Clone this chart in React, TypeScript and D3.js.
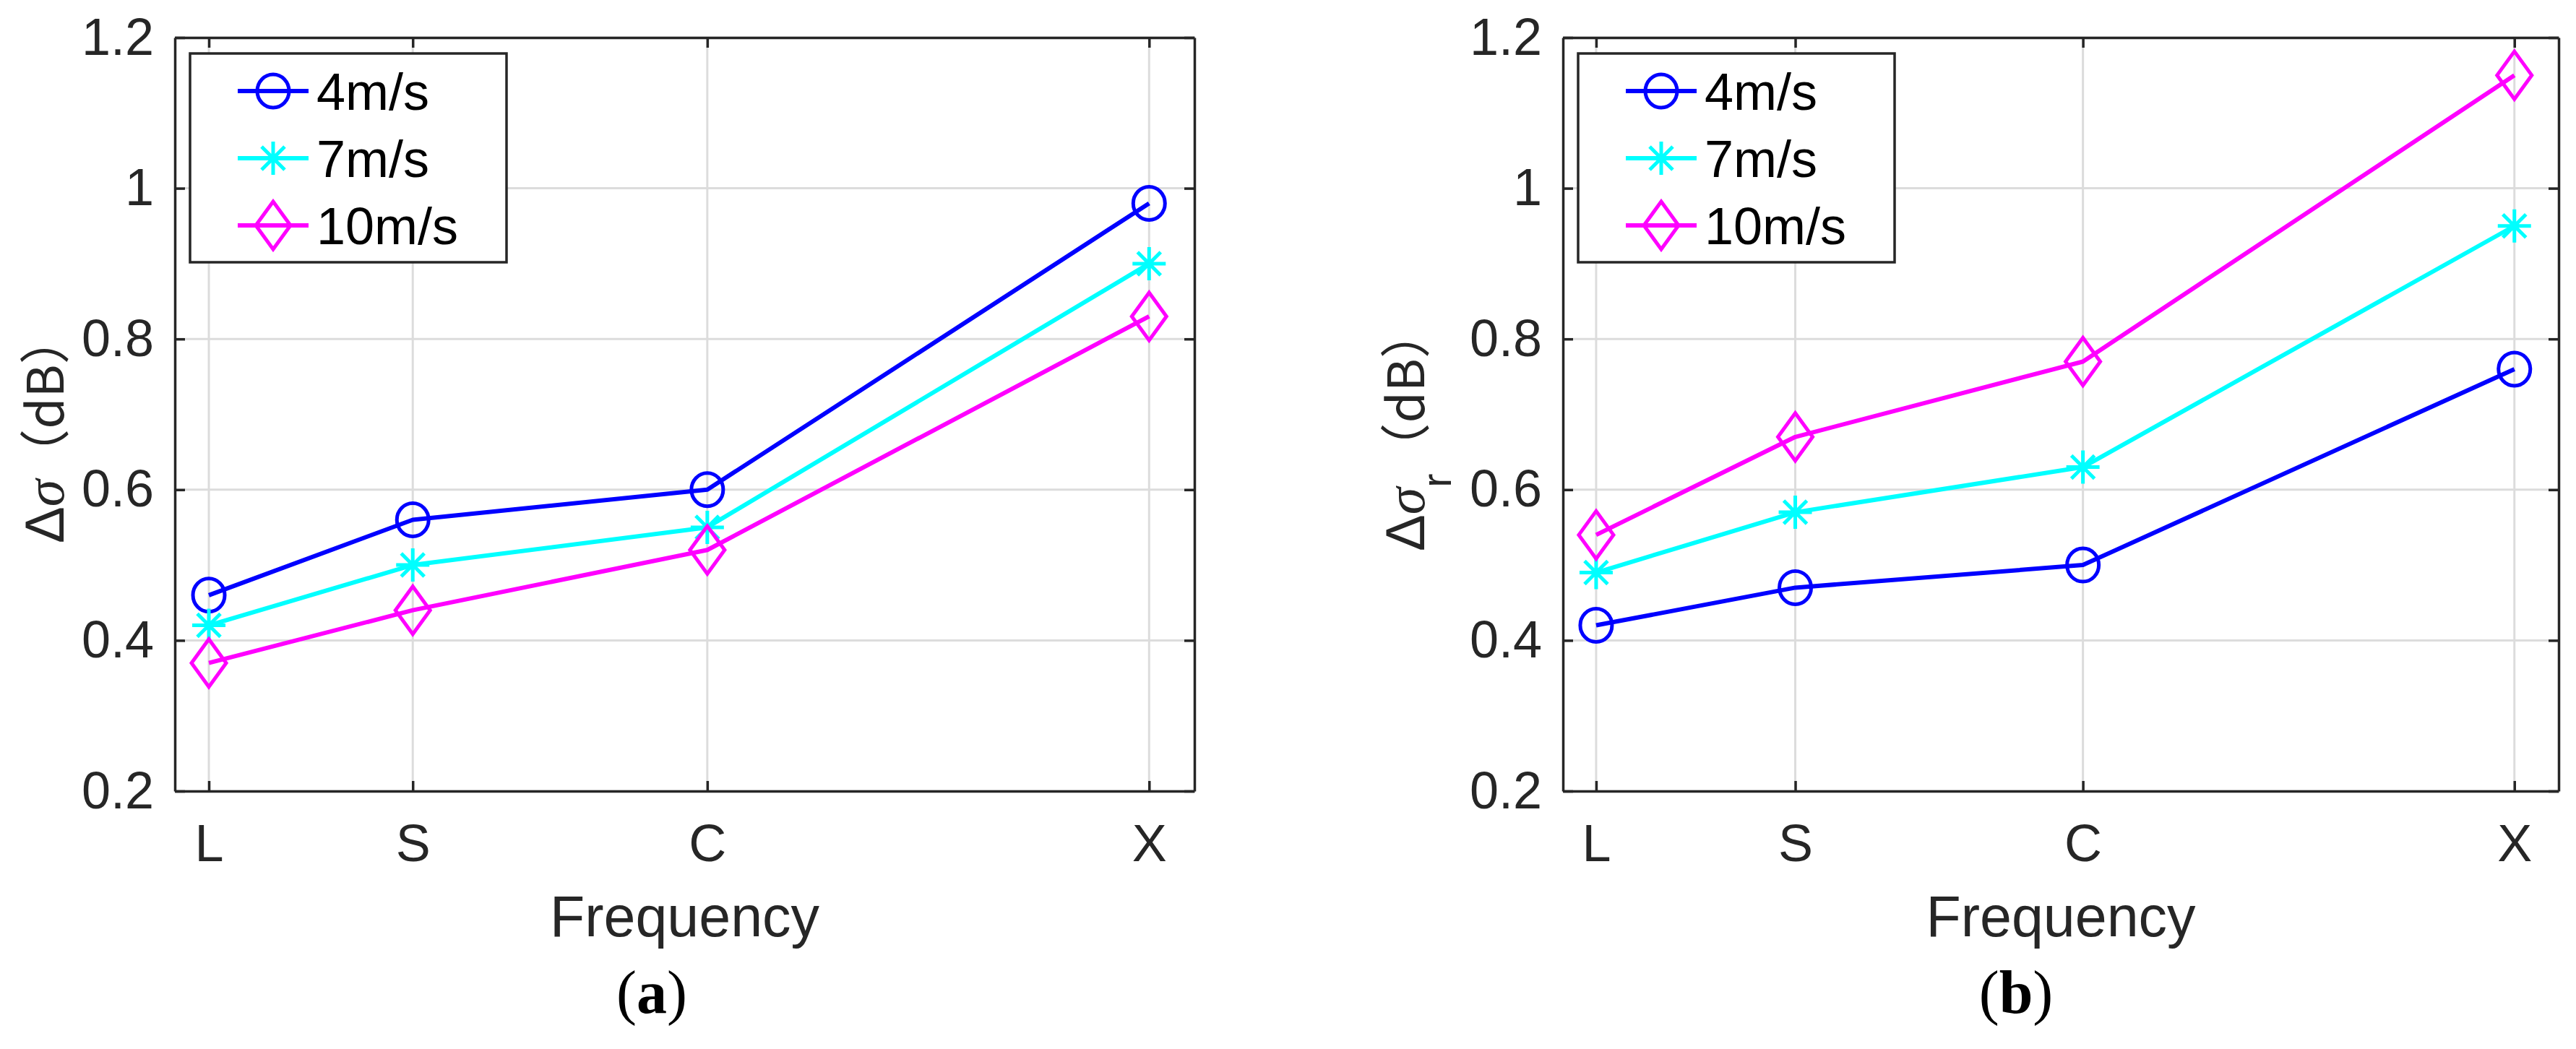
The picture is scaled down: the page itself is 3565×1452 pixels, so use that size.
import React, { useRef, useEffect } from 'react';
import * as d3 from 'd3';

const bands = ['L', 'S', 'C', 'X'];
const bandGHz = [1.3, 3.1, 5.7, 9.6];
const speeds = ['4m/s', '7m/s', '10m/s'];
const yTicks = [0.2, 0.4, 0.6, 0.8, 1.0, 1.2];

// panel (a): delta sigma
const a4 = [0.46, 0.56, 0.60, 0.98];
const a7 = [0.42, 0.50, 0.55, 0.90];
const a10 = [0.37, 0.44, 0.52, 0.83];
// panel (b): delta sigma_r
const b4 = [0.42, 0.47, 0.50, 0.76];
const b7 = [0.49, 0.57, 0.63, 0.95];
const b10 = [0.54, 0.67, 0.77, 1.15];

const colors = ['#0000ff', '#00ffff', '#ff00ff'];
const markers = ['circle', 'asterisk', 'diamond'];

const W = 3565;
const H = 1452;
const TOP = 52;
const BOTTOM = 1095;
const AX = '#262626';
const SANS = '"Liberation Sans", Arial, Helvetica, sans-serif';
const SERIF = '"Liberation Serif", "Times New Roman", serif';
const CJK = '"Noto Sans CJK SC", sans-serif';

type Panel = {
  left: number;
  right: number;
  series: number[][];
  labelX: number;
  labelY: number;
  sub: boolean;
  caption: string;
  captionX: number;
};

const panels: Panel[] = [
  { left: 242, right: 1653, series: [a4, a7, a10], labelX: 88, labelY: 752, sub: false, caption: 'a', captionX: 902 },
  { left: 2163, right: 3541, series: [b4, b7, b10], labelX: 1971, labelY: 763, sub: true, caption: 'b', captionX: 2790 },
];

function drawMarker(g: d3.Selection<SVGGElement, unknown, null, undefined>, type: string, x: number, y: number, color: string) {
  const m = g.append('g').attr('transform', `translate(${x},${y})`)
    .attr('fill', 'none').attr('stroke', color).attr('stroke-width', 5);
  if (type === 'circle') {
    m.append('ellipse').attr('rx', 22).attr('ry', 23);
  } else if (type === 'diamond') {
    m.append('path').attr('d', 'M0,-33L24,0L0,33L-24,0Z');
  } else {
    const r = 23, d = 16;
    m.append('path').attr('d', `M0,${-r}V${r}M${-r},0H${r}M${-d},${-d}L${d},${d}M${-d},${d}L${d},${-d}`);
  }
}

const App: React.FC = () => {
  const svgRef = useRef<SVGSVGElement>(null);

  useEffect(() => {
    if (!svgRef.current) return;
    const svg = d3.select(svgRef.current);
    svg.selectAll('*').remove();

    const y = d3.scaleLinear().domain([0.2, 1.2]).range([BOTTOM, TOP]);

    panels.forEach(p => {
      const x = d3.scaleLinear().domain([1, 10]).range([p.left, p.right]);
      const g = svg.append('g');

      // grid
      const grid = g.append('g').attr('stroke', '#dcdcdc').attr('stroke-width', 3);
      bandGHz.forEach(f => {
        grid.append('line').attr('x1', x(f)).attr('x2', x(f)).attr('y1', TOP).attr('y2', BOTTOM);
      });
      yTicks.forEach(t => {
        grid.append('line').attr('x1', p.left).attr('x2', p.right).attr('y1', y(t)).attr('y2', y(t));
      });

      // axes (box with inward ticks)
      const styleAxis = (sel: d3.Selection<SVGGElement, unknown, null, undefined>) => {
        sel.selectAll('path.domain').attr('stroke', AX).attr('stroke-width', 3.5);
        sel.selectAll('.tick line').attr('stroke', AX).attr('stroke-width', 3.5);
        sel.selectAll('.tick text').attr('fill', AX).attr('font-family', SANS).attr('font-size', 72);
      };
      const xb = d3.axisBottom(x).tickValues(bandGHz).tickFormat((_, i) => bands[i])
        .tickSizeInner(-14).tickSizeOuter(0).tickPadding(46);
      const xt = d3.axisTop(x).tickValues(bandGHz).tickFormat(() => '')
        .tickSizeInner(-14).tickSizeOuter(0);
      const yl = d3.axisLeft(y).tickValues(yTicks).tickFormat(d => d3.format('~g')(d as number))
        .tickSizeInner(-14).tickSizeOuter(0).tickPadding(29);
      const yr = d3.axisRight(y).tickValues(yTicks).tickFormat(() => '')
        .tickSizeInner(-14).tickSizeOuter(0);
      g.append('g').attr('transform', `translate(0,${BOTTOM})`).call(xb).call(styleAxis);
      g.append('g').attr('transform', `translate(0,${TOP})`).call(xt).call(styleAxis);
      g.append('g').attr('transform', `translate(${p.left},0)`).call(yl).call(styleAxis);
      g.append('g').attr('transform', `translate(${p.right},0)`).call(yr).call(styleAxis);

      // series
      const line = d3.line<number>().x((_, i) => x(bandGHz[i])).y(d => y(d));
      p.series.forEach((vals, si) => {
        g.append('path').attr('d', line(vals)).attr('fill', 'none')
          .attr('stroke', colors[si]).attr('stroke-width', 6).attr('stroke-linejoin', 'round');
        vals.forEach((v, i) => drawMarker(g, markers[si], x(bandGHz[i]), y(v), colors[si]));
      });

      // legend
      const lx = p.left + 21;
      const lg = g.append('g');
      lg.append('rect').attr('x', lx).attr('y', 74).attr('width', 438).attr('height', 289)
        .attr('fill', '#fff').attr('stroke', AX).attr('stroke-width', 3.5);
      speeds.forEach((s, i) => {
        const ly = 126 + i * 93;
        lg.append('line').attr('x1', lx + 66).attr('x2', lx + 164).attr('y1', ly).attr('y2', ly)
          .attr('stroke', colors[i]).attr('stroke-width', 6);
        drawMarker(lg, markers[i], lx + 115, ly, colors[i]);
        lg.append('text').attr('x', lx + 175).attr('y', ly).attr('dy', '0.36em')
          .attr('font-family', SANS).attr('font-size', 72).attr('fill', '#000').text(s);
      });

      // x label
      g.append('text').attr('x', (p.left + p.right) / 2).attr('y', 1296)
        .attr('text-anchor', 'middle').attr('font-family', SANS).attr('font-size', 79)
        .attr('fill', AX).text('Frequency');

      // y label
      const t = g.append('text')
        .attr('transform', `translate(${p.labelX},${p.labelY}) rotate(-90)`)
        .attr('font-size', 76).attr('fill', AX);
      t.append('tspan').attr('font-family', SANS).text('Δ');
      t.append('tspan').attr('font-family', SERIF).attr('font-style', 'italic').text('σ');
      if (p.sub) {
        t.append('tspan').attr('font-family', SANS).attr('font-size', 58).attr('dy', 37).text('r');
        t.append('tspan').attr('font-family', CJK).attr('font-size', 70).attr('dy', -37).text('（dB）');
      } else {
        t.append('tspan').attr('font-family', CJK).attr('font-size', 70).text('（dB）');
      }

      // caption
      const c = g.append('text').attr('x', p.captionX).attr('y', 1402)
        .attr('text-anchor', 'middle').attr('font-family', SERIF).attr('font-size', 84).attr('fill', '#000');
      c.append('tspan').text('(');
      c.append('tspan').attr('font-weight', 'bold').text(p.caption);
      c.append('tspan').text(')');
    });
  }, []);

  return (
    <div>
      <svg ref={svgRef} width={W} height={H}
        style={{ position: 'absolute', left: 0, top: 0, background: '#fff' }} />
    </div>
  );
};

export default App;
